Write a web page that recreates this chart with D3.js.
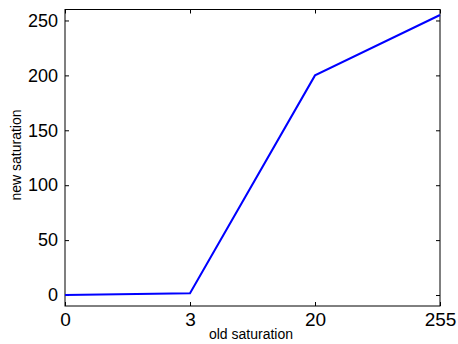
<!DOCTYPE html>
<html>
<head>
<meta charset="utf-8">
<script src="https://cdn.jsdelivr.net/npm/d3@7"></script>
<style>
  body { margin: 0; background: #fff; }
  svg { display: block; font-family: "Liberation Sans", Arial, sans-serif; }
</style>
</head>
<body>
<svg id="chart"></svg>
<script>
const width = 458, height = 344;
const margin = {top: 9.5, right: 18, bottom: 38, left: 65};

// saturation mapping: old -> new
const oldSat = ['0', '3', '20', '255'];
const newSat = [0, 1.5, 200, 255];
const yTicks = [0, 50, 100, 150, 200, 250];

const svg = d3.select('#chart')
  .attr('width', width)
  .attr('height', height);

const x = d3.scalePoint()
  .domain(oldSat)
  .range([margin.left, width - margin.right]);

const y = d3.scaleLinear()
  .domain([-10, 260])
  .range([height - margin.bottom, margin.top]);

const tickLen = 4;

// bottom axis, ticks pointing inward
const xAxis = svg.append('g')
  .attr('transform', `translate(0,${height - margin.bottom})`)
  .call(d3.axisBottom(x).tickSizeInner(-tickLen).tickSizeOuter(0).tickPadding(7));
// top mirror ticks
svg.append('g')
  .attr('transform', `translate(0,${margin.top})`)
  .call(d3.axisTop(x).tickSizeInner(-tickLen).tickSizeOuter(0).tickFormat(''));

const yAxis = svg.append('g')
  .attr('transform', `translate(${margin.left},0)`)
  .call(d3.axisLeft(y).tickValues(yTicks).tickSizeInner(-tickLen).tickSizeOuter(0).tickPadding(7));
svg.append('g')
  .attr('transform', `translate(${width - margin.right},0)`)
  .call(d3.axisRight(y).tickValues(yTicks).tickSizeInner(-tickLen).tickSizeOuter(0).tickFormat(''));

svg.selectAll('.domain').remove();
svg.selectAll('.tick line').attr('stroke', '#000').attr('stroke-width', 1);
svg.selectAll('.tick text').attr('fill', '#000');
xAxis.selectAll('.tick text').style('font-size', '19px').attr('dy', '0.71em');
yAxis.selectAll('.tick text').style('font-size', '18px');

// frame
svg.append('rect')
  .attr('x', margin.left)
  .attr('y', margin.top)
  .attr('width', width - margin.right - margin.left)
  .attr('height', height - margin.bottom - margin.top)
  .attr('fill', 'none')
  .attr('stroke', '#000')
  .attr('stroke-width', 1);

const line = d3.line()
  .x((d, i) => x(oldSat[i]))
  .y(d => y(d));

svg.append('path')
  .datum(newSat)
  .attr('fill', 'none')
  .attr('stroke', '#0000ff')
  .attr('stroke-width', 2)
  .attr('d', line);

svg.append('text')
  .attr('x', 251)
  .attr('y', 339)
  .attr('text-anchor', 'middle')
  .style('font-size', '14px')
  .text('old saturation');

svg.append('text')
  .attr('transform', 'translate(21,155) rotate(-90)')
  .attr('text-anchor', 'middle')
  .style('font-size', '14px')
  .text('new saturation');
</script>
</body>
</html>
